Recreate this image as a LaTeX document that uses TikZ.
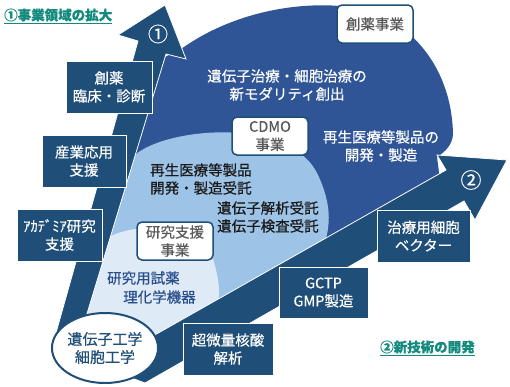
\documentclass[tikz,border=0pt]{standalone}
\usepackage{fontspec}
\setmainfont{Noto Sans CJK JP}[FakeBold=0.5]
\usetikzlibrary{shapes.geometric}
\definecolor{navy}{HTML}{1F4E79}
\definecolor{midblue}{HTML}{2F5597}
\definecolor{lightblue}{HTML}{9DC3E6}
\definecolor{palest}{HTML}{DEEBF7}
\definecolor{tealtxt}{HTML}{138A7E}
\definecolor{graytxt}{HTML}{595959}
\definecolor{darktxt}{HTML}{1A1A1A}
\definecolor{regtxt}{HTML}{2A4E8C}
\newcommand\myfs[1]{\fontsize{#1}{18}\selectfont}
\begin{document}
\begin{tikzpicture}[x=1pt,y=-1pt,
  navybox/.style={draw=white, line width=0.8pt, fill=navy, text=white, align=center, inner sep=0pt, font=\myfs{14.5}},
  whitebox/.style={draw=navy, line width=1.5pt, fill=white, rounded corners=5pt, text=graytxt, align=center, inner sep=0pt, font=\myfs{14.5}},
  plain/.style={inner sep=0pt, font=\myfs{14.5}},
  bigarrow/.style={fill=navy, draw=white, line width=0.8pt, line join=miter}]
\useasboundingbox (0,0) rectangle (510,386);
% regions
\fill[midblue] (150,65) -- (184,47) .. controls (230,15) and (290,2) .. (340,6) .. controls (400,8) and (452,60) .. (453,135) .. controls (452,145) and (445,152) .. (437,157) -- (440,180) -- (150,345) -- (80,330) -- cycle;
\fill[lightblue] (130,160) -- (135,155) .. controls (165,128) and (290,115) .. (318,175) .. controls (332,205) and (330,225) .. (325,242) -- (330,250) -- (150,345) -- (80,330) -- cycle;
\fill[palest] (100,236) -- (111,236) .. controls (140,222) and (205,222) .. (214,262) .. controls (219,280) and (220,292) .. (218,302) -- (220,305) -- (150,345) -- (80,330) -- cycle;
% arrows
\draw[bigarrow] (54,340) -- (138,41) -- (118,35) -- (165,5) -- (186,59) -- (166,54) -- (79,340) -- cycle;
\draw[bigarrow] (100,366) -- (446,170) -- (437,155) -- (507,160) -- (475,220) -- (464,201) -- (145,383) -- cycle;
\node[plain, text=white, font=\fontsize{20}{20}\selectfont] (n1) at (158,34) {①};
\node[plain, text=white, font=\fontsize{21}{21}\selectfont] (n2) at (471,180) {②};
% core ellipse
\node[ellipse, draw=navy, line width=2pt, fill=white, minimum width=104pt, minimum height=70pt, inner sep=0pt, text=navy, align=center, font=\myfs{15}] (core) at (105,348) {遺伝子工学\\細胞工学};
% navy boxes
\node[navybox, minimum width=86pt, minimum height=52pt] (b1) at (109,87) {創薬\\臨床・診断};
\node[navybox, minimum width=84pt, minimum height=52pt] (b2) at (84,161) {産業応用\\支援};
\node[navybox, minimum width=85pt, minimum height=52pt] (b3) at (59.5,235) {ｱｶﾃﾞﾐｱ研究\\支援};
\node[navybox, minimum width=90pt, minimum height=52pt] (b4) at (228,349) {超微量核酸\\解析};
\node[navybox, minimum width=89pt, minimum height=51pt] (b5) at (323.5,292.5) {GCTP\\GMP製造};
\node[navybox, minimum width=93pt, minimum height=52pt] (b6) at (423.5,236) {治療用細胞\\ベクター};
% white boxes
\node[whitebox, minimum width=76pt, minimum height=38pt] (w1) at (375,24) {創薬事業};
\node[whitebox, minimum width=76pt, minimum height=38pt] (w2) at (270,136) {CDMO\\事業};
\node[whitebox, minimum width=76pt, minimum height=38pt] (w3) at (175,241) {研究支援\\事業};
% region texts
\node[plain, text=white, align=center] (t1) at (287,85) {遺伝子治療・細胞治療の\\新モダリティ創出};
\node[plain, text=white, align=center] (t2) at (381,146) {再生医療等製品の\\開発・製造};
\node[plain, text=darktxt, align=left, anchor=west] (t3) at (150,179) {再生医療等製品\\開発・製造受託};
\node[plain, text=darktxt, align=left, anchor=west] (t4) at (217,217) {遺伝子解析受託\\遺伝子検査受託};
\node[plain, text=regtxt, anchor=west] (t5a) at (107,278) {研究用試薬};
\node[plain, text=regtxt, anchor=west] (t5b) at (123,297) {理化学機器};
% titles
\node[plain, text=tealtxt, anchor=west, font=\bfseries\fontsize{13.5}{16}\selectfont] (title1) at (4,16) {\underline{①事業領域の拡大}};
\node[plain, text=tealtxt, anchor=west, font=\bfseries\fontsize{13.5}{16}\selectfont] (title2) at (380,348) {\underline{②新技術の開発}};
\end{tikzpicture}
\end{document}
